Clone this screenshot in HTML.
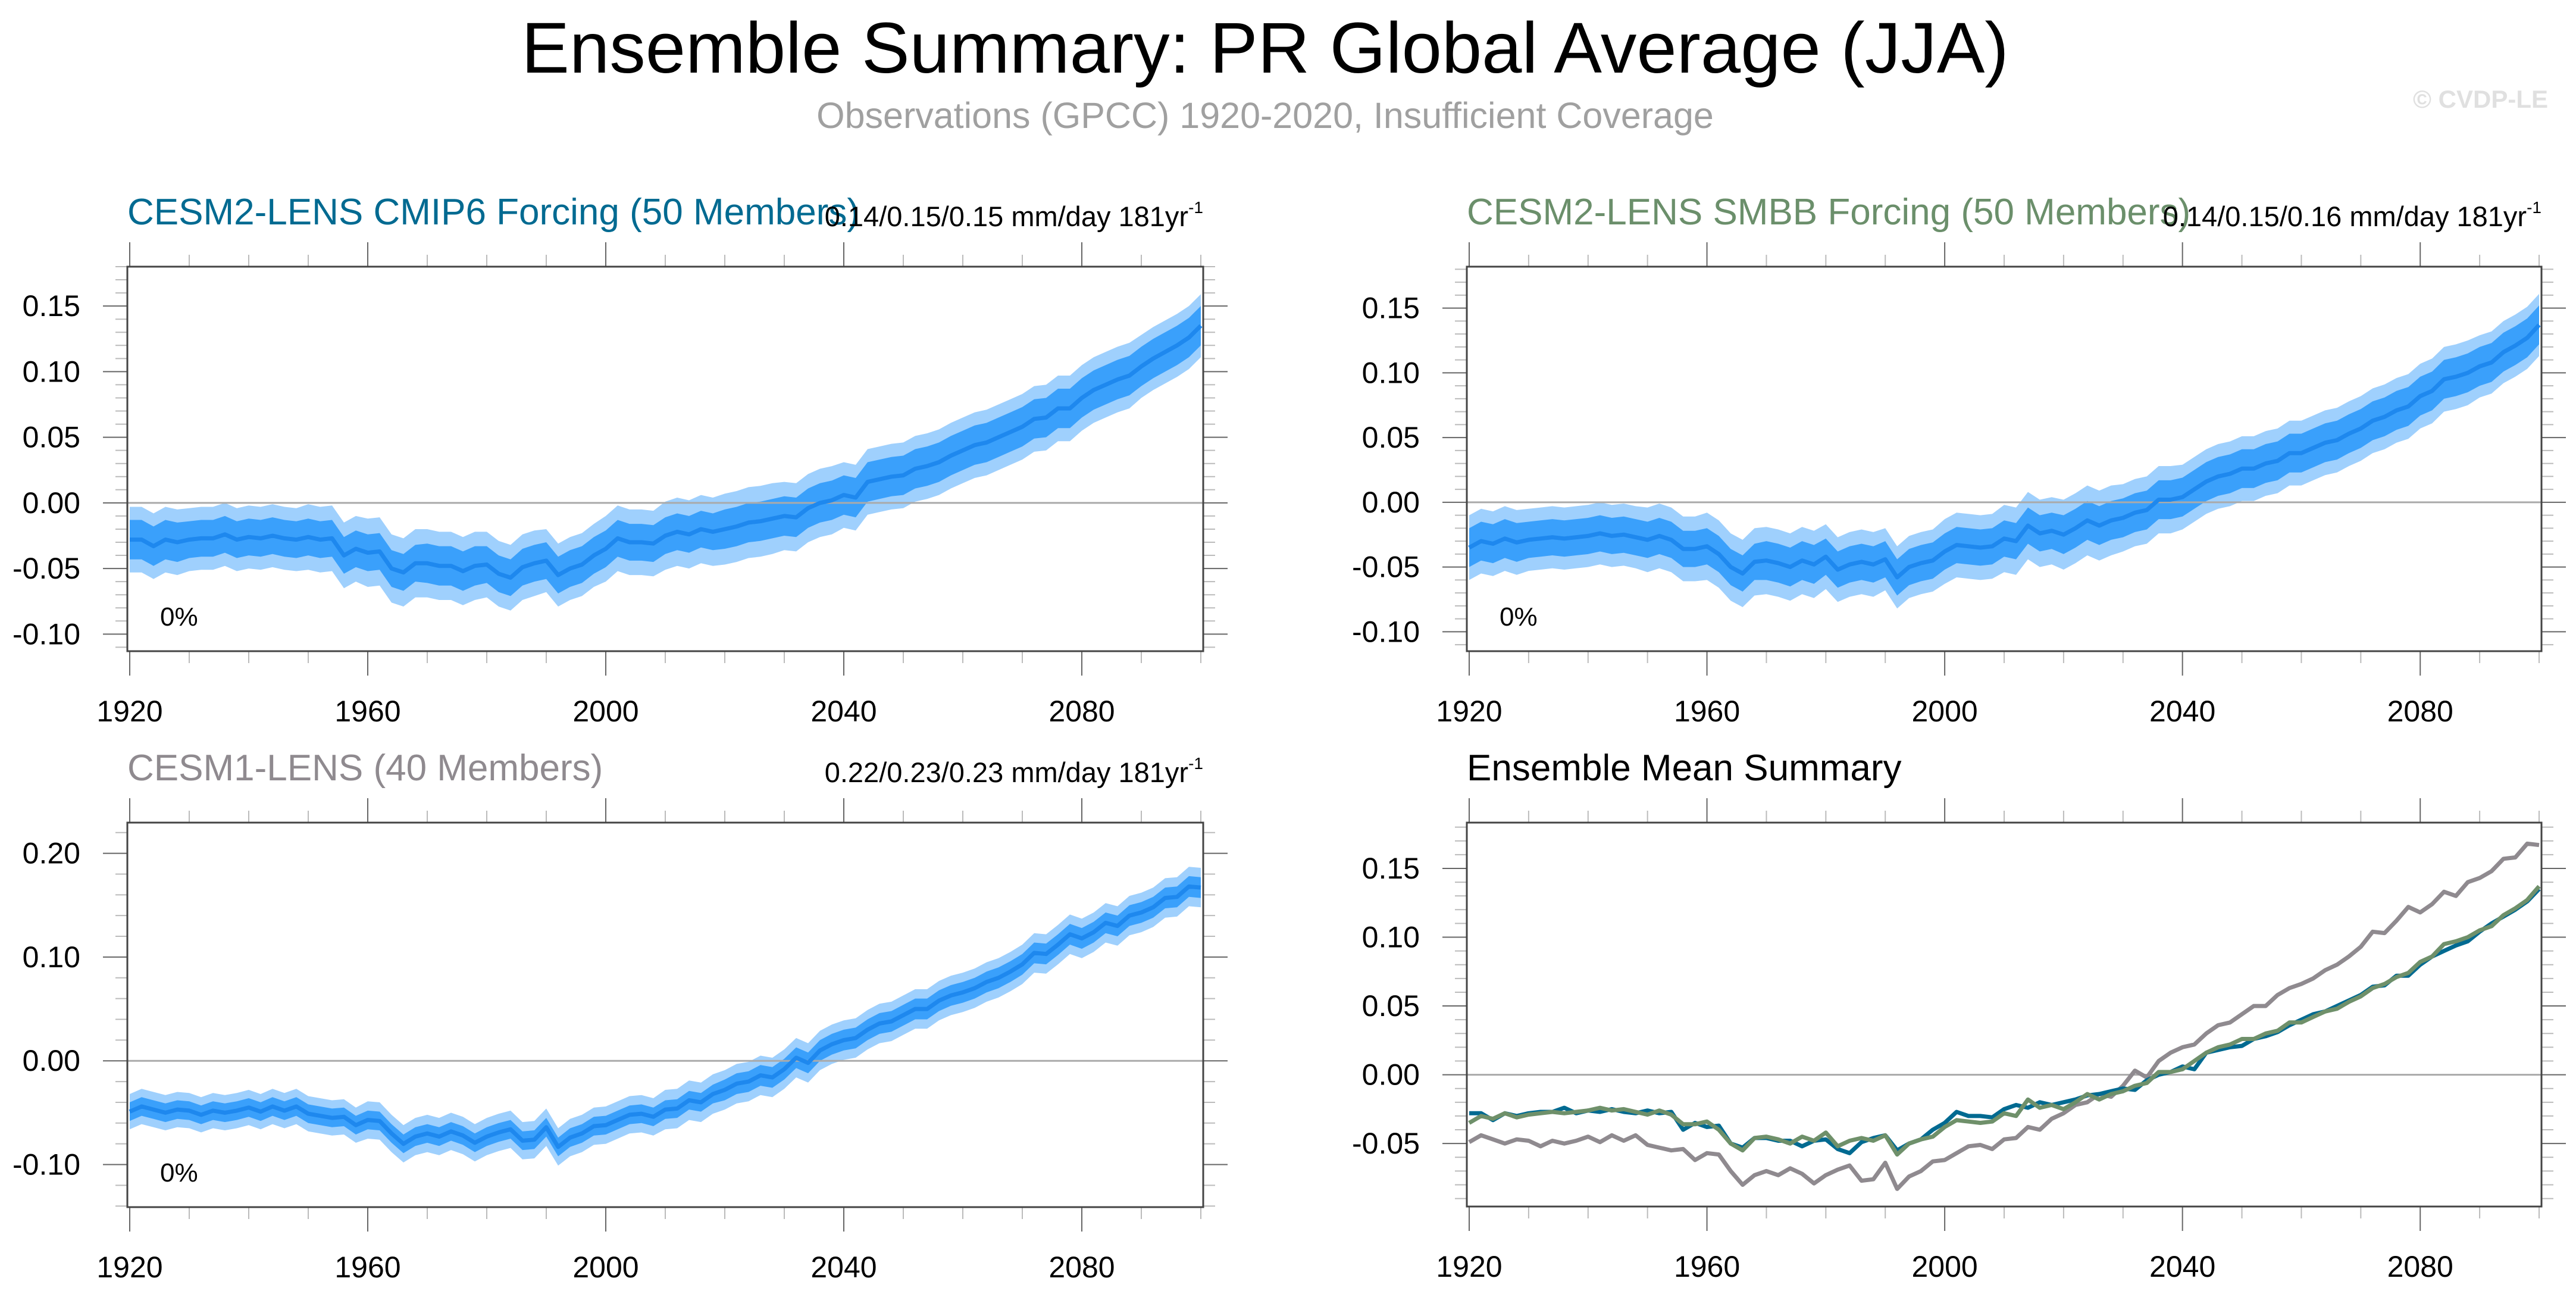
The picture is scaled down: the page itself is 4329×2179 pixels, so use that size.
<!DOCTYPE html>
<html><head><meta charset="utf-8">
<style>
html,body{margin:0;padding:0;background:#fff;}
svg{display:block;font-family:"Liberation Sans",Arial,sans-serif;}
</style></head>
<body>
<svg id="fig" width="4329" height="2179" viewBox="0 0 4329 2179" xmlns="http://www.w3.org/2000/svg">
<text x="2126" y="122" text-anchor="middle" font-size="121" fill="#000">Ensemble Summary: PR Global Average (JJA)</text>
<text x="2126" y="215" text-anchor="middle" font-size="61" fill="#a0a0a0">Observations (GPCC) 1920-2020, Insufficient Coverage</text>
<text x="4282" y="181" text-anchor="end" font-size="42" font-weight="bold" fill="#e0e0e0">© CVDP-LE</text>
</svg>
<script>
// ---- data (2-year steps, 1920..2100) ----
const years = [];
for (let y = 1920; y <= 2100; y += 2) years.push(y);
const cesm2Cmip6Mean = [-0.028,-0.028,-0.033,-0.028,-0.030,-0.028,-0.027,-0.027,-0.024,-0.028,-0.026,-0.027,-0.025,-0.027,-0.028,-0.026,-0.028,-0.027,-0.040,-0.035,-0.038,-0.037,-0.050,-0.053,-0.046,-0.046,-0.048,-0.048,-0.052,-0.048,-0.047,-0.054,-0.057,-0.049,-0.046,-0.044,-0.055,-0.050,-0.047,-0.040,-0.035,-0.027,-0.030,-0.030,-0.031,-0.025,-0.022,-0.024,-0.020,-0.022,-0.020,-0.018,-0.015,-0.014,-0.012,-0.010,-0.011,-0.004,0.000,0.002,0.006,0.004,0.016,0.018,0.020,0.021,0.026,0.028,0.031,0.036,0.040,0.044,0.046,0.050,0.054,0.058,0.064,0.065,0.072,0.072,0.080,0.086,0.090,0.094,0.097,0.104,0.110,0.115,0.120,0.126,0.135];
const cesm2SmbbMean = [-0.035,-0.030,-0.032,-0.028,-0.031,-0.029,-0.028,-0.027,-0.028,-0.027,-0.026,-0.024,-0.026,-0.025,-0.027,-0.029,-0.026,-0.029,-0.036,-0.036,-0.034,-0.040,-0.050,-0.055,-0.046,-0.045,-0.047,-0.050,-0.045,-0.048,-0.042,-0.052,-0.048,-0.046,-0.048,-0.044,-0.058,-0.050,-0.047,-0.045,-0.038,-0.033,-0.034,-0.035,-0.034,-0.028,-0.030,-0.018,-0.024,-0.022,-0.025,-0.020,-0.014,-0.018,-0.014,-0.012,-0.008,-0.006,0.002,0.002,0.004,0.010,0.016,0.020,0.022,0.026,0.026,0.030,0.032,0.038,0.038,0.042,0.046,0.048,0.053,0.057,0.063,0.066,0.071,0.074,0.082,0.086,0.095,0.097,0.100,0.105,0.108,0.116,0.121,0.127,0.137];
const cesm1Mean = [-0.049,-0.044,-0.047,-0.050,-0.047,-0.048,-0.052,-0.048,-0.050,-0.048,-0.045,-0.049,-0.044,-0.048,-0.044,-0.051,-0.053,-0.055,-0.054,-0.062,-0.057,-0.058,-0.070,-0.080,-0.073,-0.070,-0.073,-0.068,-0.072,-0.079,-0.073,-0.069,-0.066,-0.077,-0.076,-0.064,-0.083,-0.074,-0.070,-0.063,-0.062,-0.057,-0.052,-0.051,-0.054,-0.047,-0.046,-0.038,-0.040,-0.032,-0.028,-0.022,-0.020,-0.014,-0.016,-0.008,0.003,-0.002,0.010,0.016,0.020,0.022,0.030,0.036,0.038,0.044,0.050,0.050,0.058,0.063,0.066,0.070,0.076,0.080,0.086,0.093,0.104,0.103,0.112,0.122,0.118,0.124,0.133,0.130,0.140,0.143,0.148,0.157,0.158,0.168,0.167];
// band half-widths per decade (1920s..2100)
const cesm2Inner = [0.015,0.014,0.014,0.014,0.014,0.015,0.014,0.014,0.014,0.014,0.015,0.015,0.015,0.015,0.015,0.015,0.015,0.015,0.015];
const cesm2Outer = [0.025,0.024,0.024,0.025,0.026,0.026,0.025,0.024,0.025,0.026,0.027,0.026,0.025,0.025,0.025,0.025,0.025,0.024,0.024];
const cesm1Inner = [0.009,0.009,0.009,0.009,0.009,0.009,0.009,0.009,0.009,0.009,0.010,0.010,0.010,0.010,0.010,0.010,0.010,0.010,0.010];
const cesm1Outer = [0.017,0.017,0.017,0.017,0.018,0.018,0.018,0.018,0.018,0.019,0.019,0.019,0.019,0.019,0.019,0.019,0.019,0.019,0.019];
const yTicksTop = [-0.10,-0.05,0.00,0.05,0.10,0.15];
const yTicksCesm1 = [-0.10,0.00,0.10,0.20];
const yTicksMean = [-0.05,0.00,0.05,0.10,0.15];
const xTickYears = [1920,1960,2000,2040,2080];

const NS = "http://www.w3.org/2000/svg";
const svg = document.getElementById('fig');
function el(tag, attrs, parent){
  const e = document.createElementNS(NS, tag);
  for (const k in attrs) e.setAttribute(k, attrs[k]);
  (parent||svg).appendChild(e);
  return e;
}

function panel(cfg){
  const g = el('g', {});
  
  
  const {L,R,T,B,ymin,ymax} = cfg;
  const xs = yr => L + 4 + (yr - 1920) * (R - L - 8) / 180;
  const ys = v => B - (v - ymin) * (B - T) / (ymax - ymin);
  for (let yr = 1920; yr <= 2100; yr += 10) {
    const major = (yr - 1920) % 40 === 0;
    const len = major ? 41 : 20;
    const t1 = el('line', {x1:xs(yr), x2:xs(yr), y1:B, y2:B+len, stroke:major?'#666':'#bbb', 'stroke-width':2}, g);
    
    
    const t2 = el('line', {x1:xs(yr), x2:xs(yr), y1:T, y2:T-len, stroke:major?'#666':'#bbb', 'stroke-width':2}, g);
    
    
  }
  xTickYears.forEach(yr => {
    const t = el('text', {x:xs(yr), y:B+118, 'text-anchor':'middle', 'font-size':50, fill:'#000'}, g);
    
    
    t.textContent = yr;
  });
  const start = Math.ceil(ymin / cfg.minor - 1e-9);
  for (let i = start; i * cfg.minor <= ymax + 1e-9; i++) {
    const v = i * cfg.minor;
    const major = cfg.ticks.some(t => Math.abs(t - v) < 1e-9);
    const len = major ? 41 : 20;
    const a = el('line', {x1:L-len, x2:L, y1:ys(v), y2:ys(v), stroke:major?'#666':'#bbb', 'stroke-width':2}, g);
    
    
    const b = el('line', {x1:R, x2:R+len, y1:ys(v), y2:ys(v), stroke:major?'#666':'#bbb', 'stroke-width':2}, g);
    
    
  }
  cfg.ticks.forEach(v => {
    const t = el('text', {x:L-79, y:ys(v)+17, 'text-anchor':'end', 'font-size':50, fill:'#000'}, g);
    
    
    t.textContent = v.toFixed(2);
  });
  const band = (mean, half, color, nm) => {
    const w = i => half[Math.min(half.length - 1, Math.floor((years[i] - 1920) / 10))];
    let d = '';
    years.forEach((yr, i) => { d += (i ? 'L' : 'M') + xs(yr).toFixed(1) + ',' + ys(mean[i] + w(i)).toFixed(1); });
    for (let i = years.length - 1; i >= 0; i--) d += 'L' + xs(years[i]).toFixed(1) + ',' + ys(mean[i] - w(i)).toFixed(1);
    const p = el('path', {d: d + 'Z', fill: color}, g);
    
    
  };
  const line = (mean, color, width, nm) => {
    let d = '';
    years.forEach((yr, i) => { d += (i ? 'L' : 'M') + xs(yr).toFixed(1) + ',' + ys(mean[i]).toFixed(1); });
    const p = el('path', {d, fill:'none', stroke:color, 'stroke-width':width, 'stroke-linejoin':'round'}, g);
    
    
  };
  if (cfg.mean) {
    band(cfg.mean, cfg.outer, '#9fd0fd', 'outer-spread-band');
    band(cfg.mean, cfg.inner, '#3aa0fb', 'inner-spread-band');
  }
  const z = el('line', {x1:L, x2:R, y1:ys(0), y2:ys(0), stroke:'#aaa', 'stroke-width':3}, g);
  
  
  if (cfg.mean) line(cfg.mean, '#1e88ee', 7, 'ensemble-mean-line');
  if (cfg.lines) cfg.lines.forEach(l => line(l.data, l.color, 7, l.name));
  const box = el('rect', {x:L, y:T, width:R-L, height:B-T, fill:'none', stroke:'#444', 'stroke-width':3}, g);
  
  
  const tt = el('text', {x:L, y:T-71, 'font-size':62, fill:cfg.titleColor}, g);
  
  
  tt.textContent = cfg.title;
  if (cfg.rate) {
    const rt = el('text', {x:R, y:T-68, 'text-anchor':'end', 'font-size':47, fill:'#000'}, g);
    
    
    rt.textContent = cfg.rate;
    const sp = el('tspan', {'font-size':28, dy:-22}, rt);
    sp.textContent = '-1';
    const pc = el('text', {x:L+55, y:B-43, 'font-size':44, fill:'#000'}, g);
    
    
    pc.textContent = '0%';
  }
}

panel({name:'panel-cesm2-cmip6', L:214, R:2022, T:448, B:1094, ymin:-0.113, ymax:0.180, ticks:yTicksTop, minor:0.01,
  mean:cesm2Cmip6Mean, inner:cesm2Inner, outer:cesm2Outer, title:'CESM2-LENS CMIP6 Forcing (50 Members)', titleColor:'#006a91',
  rate:'0.14/0.15/0.15 mm/day 181yr'});
panel({name:'panel-cesm2-smbb', L:2465, R:4271, T:448, B:1094, ymin:-0.115, ymax:0.182, ticks:yTicksTop, minor:0.01,
  mean:cesm2SmbbMean, inner:cesm2Inner, outer:cesm2Outer, title:'CESM2-LENS SMBB Forcing (50 Members)', titleColor:'#6b8f6b',
  rate:'0.14/0.15/0.16 mm/day 181yr'});
panel({name:'panel-cesm1', L:214, R:2022, T:1382, B:2028, ymin:-0.141, ymax:0.2296, ticks:yTicksCesm1, minor:0.02,
  mean:cesm1Mean, inner:cesm1Inner, outer:cesm1Outer, title:'CESM1-LENS (40 Members)', titleColor:'#8f8a8f',
  rate:'0.22/0.23/0.23 mm/day 181yr'});
panel({name:'panel-ensemble-mean-summary', L:2465, R:4271, T:1382, B:2027, ymin:-0.0958, ymax:0.1833, ticks:yTicksMean, minor:0.01,
  title:'Ensemble Mean Summary', titleColor:'#000',
  lines:[{data:cesm1Mean, color:'#8f8a8f', name:'cesm1-mean-line'},
         {data:cesm2Cmip6Mean, color:'#006a91', name:'cesm2-cmip6-mean-line'},
         {data:cesm2SmbbMean, color:'#6f906a', name:'cesm2-smbb-mean-line'}]});
</script>
</body></html>
